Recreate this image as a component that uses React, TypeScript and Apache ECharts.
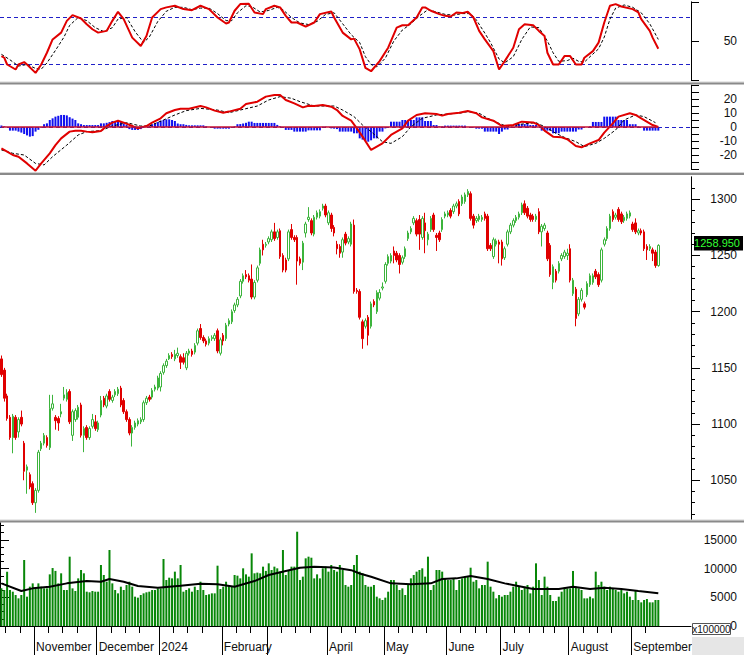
import React, { useEffect, useRef } from "react";
import * as echarts from "echarts";

// [open, close, low, high]
const candles: number[][] = [
  [1158,1144,1142,1161],[1148,1123,1120,1150],[1125,1105,1103,1127],[1106,1088,1086,1108],[1088,1107,1074,1109],
  [1106,1088,1086,1108],[1093,1104,1088,1106],[1106,1100,1098,1112],[1083,1058,1050,1085],[1059,1062,1038,1064],
  [1055,1044,1042,1057],[1047,1030,1028,1049],[1030,1041,1021,1043],[1041,1075,1039,1077],[1078,1083,1076,1085],
  [1083,1090,1081,1092],[1088,1081,1079,1090],[1079,1114,1077,1126],[1114,1118,1112,1126],[1106,1103,1095,1108],
  [1105,1101,1094,1107],[1109,1111,1106,1118],[1123,1126,1121,1133],[1122,1128,1120,1131],[1129,1102,1100,1131],
  [1090,1111,1085,1113],[1104,1112,1102,1114],[1106,1115,1104,1117],[1117,1090,1088,1119],[1090,1096,1075,1098],
  [1097,1088,1086,1099],[1088,1096,1086,1098],[1098,1104,1096,1109],[1102,1096,1094,1108],[1095,1101,1093,1103],
  [1108,1121,1106,1125],[1123,1117,1115,1125],[1116,1125,1114,1127],[1129,1122,1120,1131],[1121,1124,1119,1126],
  [1126,1129,1124,1131],[1127,1131,1125,1133],[1132,1117,1115,1134],[1121,1111,1109,1123],[1111,1104,1102,1113],
  [1104,1092,1090,1106],[1092,1097,1080,1099],[1097,1101,1095,1103],[1100,1103,1098,1105],[1102,1104,1100,1106],
  [1104,1119,1102,1121],[1119,1123,1117,1125],[1124,1122,1120,1126],[1124,1130,1122,1132],[1131,1133,1129,1135],
  [1132,1141,1130,1143],[1133,1145,1129,1147],[1146,1152,1144,1154],[1152,1156,1150,1158],[1158,1161,1157,1163],
  [1162,1160,1158,1164],[1158,1162,1156,1166],[1161,1163,1159,1168],[1160,1155,1149,1162],[1159,1155,1153,1163],
  [1150,1163,1148,1165],[1163,1165,1161,1167],[1165,1162,1160,1167],[1164,1170,1162,1172],[1172,1183,1170,1185],
  [1185,1177,1175,1189],[1177,1174,1172,1179],[1174,1171,1169,1176],[1172,1176,1170,1178],[1176,1177,1174,1179],
  [1176,1179,1174,1181],[1183,1165,1163,1185],[1163,1175,1161,1177],[1179,1174,1170,1181],[1176,1188,1174,1190],
  [1189,1192,1187,1194],[1191,1200,1189,1202],[1201,1206,1199,1208],[1206,1211,1204,1213],[1214,1227,1212,1229],
  [1227,1232,1225,1234],[1233,1231,1229,1237],[1232,1228,1226,1234],[1229,1213,1211,1242],[1213,1226,1211,1228],
  [1228,1239,1226,1241],[1243,1255,1241,1257],[1260,1255,1250,1264],[1259,1260,1257,1262],[1262,1265,1260,1267],
  [1264,1271,1262,1273],[1271,1265,1263,1279],[1266,1271,1264,1273],[1272,1249,1247,1274],[1250,1237,1235,1252],
  [1246,1237,1235,1248],[1247,1271,1245,1273],[1273,1266,1264,1278],[1266,1264,1262,1268],[1266,1245,1224,1268],
  [1247,1243,1241,1249],[1244,1261,1237,1263],[1270,1278,1266,1280],[1282,1284,1280,1293],[1281,1270,1268,1283],
  [1269,1284,1267,1286],[1284,1288,1282,1290],[1285,1289,1283,1291],[1292,1294,1290,1296],[1294,1286,1284,1296],
  [1279,1288,1277,1290],[1286,1274,1271,1288],[1275,1270,1267,1277],[1260,1256,1251,1263],[1258,1252,1248,1260],
  [1253,1264,1248,1266],[1269,1261,1259,1271],[1262,1265,1260,1267],[1260,1278,1258,1280],[1277,1218,1216,1282],
  [1219,1218,1216,1221],[1218,1195,1193,1220],[1191,1176,1167,1193],[1187,1192,1185,1194],[1195,1179,1170,1197],
  [1187,1207,1185,1209],[1209,1206,1204,1211],[1200,1217,1198,1219],[1212,1217,1210,1220],[1221,1222,1219,1226],
  [1227,1242,1225,1244],[1243,1249,1241,1251],[1245,1250,1243,1252],[1254,1250,1243,1258],[1252,1246,1244,1254],
  [1250,1242,1234,1252],[1244,1248,1242,1250],[1249,1256,1247,1258],[1265,1270,1263,1272],[1271,1274,1269,1276],
  [1279,1283,1277,1285],[1281,1269,1267,1283],[1282,1269,1255,1286],[1266,1283,1264,1285],[1279,1272,1252,1288],
  [1264,1269,1259,1271],[1273,1283,1271,1285],[1286,1273,1271,1288],[1268,1266,1254,1270],[1270,1264,1262,1272],
  [1273,1282,1271,1284],[1285,1287,1283,1289],[1286,1288,1284,1290],[1290,1285,1283,1292],[1289,1294,1287,1296],
  [1294,1296,1292,1298],[1298,1287,1285,1300],[1296,1302,1294,1304],[1298,1304,1296,1306],[1304,1307,1302,1309],
  [1305,1283,1281,1307],[1285,1277,1274,1287],[1281,1283,1279,1285],[1282,1285,1280,1287],[1282,1284,1280,1286],
  [1287,1283,1281,1289],[1285,1256,1254,1287],[1259,1256,1254,1261],[1249,1264,1247,1266],[1260,1263,1258,1265],
  [1262,1260,1243,1264],[1262,1247,1241,1264],[1248,1256,1246,1258],[1260,1271,1258,1273],[1271,1277,1269,1279],
  [1277,1281,1275,1283],[1281,1284,1279,1286],[1284,1287,1282,1289],[1288,1295,1286,1297],[1296,1288,1286,1299],
  [1292,1285,1283,1294],[1286,1282,1280,1288],[1285,1282,1280,1287],[1282,1285,1280,1287],[1289,1271,1269,1292],
  [1271,1276,1258,1278],[1274,1277,1272,1279],[1270,1247,1245,1272],[1259,1233,1231,1261],[1226,1240,1220,1242],
  [1236,1228,1226,1238],[1236,1243,1234,1245],[1247,1250,1245,1252],[1249,1253,1247,1255],[1250,1252,1246,1256],
  [1256,1228,1226,1260],[1216,1228,1214,1230],[1220,1194,1187,1222],[1198,1211,1196,1213],[1211,1219,1209,1221],
  [1207,1204,1202,1209],[1215,1225,1213,1227],[1224,1232,1222,1234],[1226,1232,1224,1234],[1236,1231,1229,1238],
  [1233,1224,1222,1235],[1228,1255,1226,1257],[1260,1264,1258,1266],[1265,1274,1263,1276],[1274,1285,1272,1287],
  [1289,1282,1280,1291],[1284,1286,1282,1288],[1291,1282,1280,1293],[1287,1280,1278,1289],[1281,1284,1279,1286],
  [1283,1287,1281,1289],[1285,1288,1283,1290],[1278,1273,1271,1280],[1279,1271,1269,1283],[1270,1272,1268,1274],
  [1272,1270,1268,1274],[1271,1256,1254,1273],[1258,1255,1246,1260],[1256,1258,1254,1260],[1255,1252,1245,1257],
  [1253,1241,1239,1255],[1241,1258.95,1240,1260]
];

// volume in units of 100000
const volumes: number[] = [
  6560,6270,9470,6270,5980,5400,4820,5400,11500,5110,
  6850,7430,6560,7430,6850,6560,6560,9000,10100,9600,
  7430,9180,6270,6270,12080,6560,6100,8300,9760,9180,
  5980,5870,6100,5980,5980,10630,8890,7720,13240,7430,
  6270,5690,6850,6270,7140,7720,6850,5110,4940,5400,
  5690,5870,5980,6270,6270,6560,6560,11670,8010,8420,
  8300,9470,8300,10630,5980,6270,6560,5980,6850,6270,
  7720,6270,5400,5520,5690,5690,10510,6440,6850,7720,
  7140,6850,8890,8770,8300,10050,9000,8600,12660,9180,
  9300,9180,10340,9600,10920,9760,10340,10050,9470,13240,
  8890,9760,10340,10340,16430,8010,8600,11790,12080,11900,
  8300,9000,8300,10050,10340,9470,10630,9760,9470,10630,
  9760,7140,6850,7140,10630,12370,9470,9180,7140,6850,
  6850,7140,5110,4820,4530,4940,5980,8010,8010,7140,
  6270,6560,5400,7140,8300,8890,9470,9760,10050,8600,
  12080,6270,7140,9760,9760,9470,8300,8010,8010,8300,
  6270,8010,8300,8600,8600,10160,7720,8010,6560,7140,
  7140,11210,6850,5980,4820,5400,5110,5400,5400,5980,
  6850,7720,6850,6270,6850,7140,5690,6850,10920,8010,
  5400,8600,6850,5400,4360,4360,5110,5980,6680,6560,
  6560,9590,6850,6560,6270,4820,4820,5110,4820,9470,
  7140,7720,6850,6270,6850,6560,6270,5980,6270,5690,
  5980,5110,4530,6100,4530,4120,4530,4700,4120,4120,
  4530,4530
];

// [candle index, value] points
const volumeMA: number[][] = [
  [0,7430],[7,6100],[11,6560],[17,6850],[23,7430],[30,7830],[35,7720],[38,8180],[43,7720],[48,6960],
  [55,6680],[63,7020],[70,7370],[76,7260],[82,6850],[89,7830],[94,8880],[100,9570],[105,10150],[110,10320],
  [117,10200],[123,9730],[126,9150],[130,8570],[137,7430],[144,7260],[151,7430],[155,8180],[160,8300],
  [165,8700],[171,8180],[177,7430],[183,6850],[187,6440],[196,6440],[201,6850],[207,6440],[212,6670],
  [218,6440],[224,6090],[231,5690]
];

const stochK: number[][] = [
  [0,30.7],[1,28.6],[2,20],[5,13.6],[6,20],[8,23],[9,20],[12,9.3],[14,20],[16,35],[18,52],[21,60.7],
  [23,75.7],[25,83],[28,78.7],[30,71.4],[32,65],[34,60.7],[37,62.9],[39,75.7],[41,87.3],[43,77.9],
  [46,54.3],[49,43.6],[51,56.4],[53,80],[56,90.7],[58,92.9],[61,95],[64,90.7],[67,89.4],[70,95],
  [73,90.7],[76,80],[79,72.3],[80,73.6],[82,88.6],[84,97.1],[87,97.6],[89,86.4],[92,84.3],[93,90.7],
  [96,95],[98,92.9],[100,82.1],[102,73.6],[104,73.6],[107,68.4],[110,73.6],[112,84.3],[116,87.7],
  [117,80],[120,60.7],[123,52.1],[124,53],[126,39.3],[128,15.7],[130,11.4],[133,24.3],[136,41.4],
  [139,67.1],[141,70.1],[143,70.1],[146,80],[148,92.9],[149,92.9],[151,88.6],[154,84.3],[156,82.1],
  [158,81.3],[160,86.4],[162,85.6],[164,87.3],[166,80],[168,62.9],[170,52.1],[173,37.1],[175,13.6],
  [177,24.3],[180,41.4],[182,65],[184,71.4],[187,70.1],[189,62.9],[191,56.4],[192,35],[194,20],
  [196,20],[198,30.7],[200,30.7],[202,20],[204,20],[205,28.6],[208,37.1],[210,47.9],[212,73.6],
  [214,95],[216,97.1],[218,94.1],[222,90.7],[224,86.4],[225,77.9],[228,62.9],[229,54.3],[231,40.1]
];

const stochD: number[][] = [
  [0,33],[3,26],[6,18],[9,20],[12,15],[14,14],[16,22],[19,38],[22,55],[24,70],[27,80],[30,76],
  [33,67],[36,62],[39,67],[41,78],[44,80],[47,62],[50,48],[52,55],[55,75],[58,88],[61,93],[64,93],
  [67,90],[70,92],[73,92],[76,85],[79,76],[81,76],[83,86],[86,95],[88,94],[91,87],[94,89],[97,93],
  [99,90],[102,80],[105,73],[108,71],[111,75],[114,84],[117,86],[120,72],[123,58],[126,48],[128,30],
  [130,20],[132,17],[135,28],[138,50],[141,64],[144,72],[147,82],[150,90],[153,87],[156,84],[159,83],
  [162,85],[165,85],[167,77],[170,60],[172,48],[175,27],[177,22],[180,30],[183,52],[186,68],[189,67],
  [192,50],[194,35],[196,24],[199,25],[201,28],[203,24],[205,23],[207,30],[210,40],[212,55],[214,78],
  [216,92],[219,96],[222,93],[225,86],[228,72],[231,52]
];

const macdLine: number[][] = [
  [0,-15.2],[2,-17.6],[4,-20],[6,-21.2],[9,-26],[12,-31.2],[14,-26],[17,-18.8],[19,-12.9],[21,-8.1],
  [24,-3.3],[26,-2.6],[28,-2.6],[30,-3.3],[32,-3.8],[35,-2.9],[37,0.7],[39,3.1],[41,4.5],[43,3.1],
  [46,0.7],[48,-1],[51,0.7],[53,3.1],[56,6.2],[58,9.8],[61,12.1],[63,13.1],[66,13.1],[70,15],[72,14],
  [75,11.7],[78,10.2],[80,11],[84,13.1],[86,16.4],[90,18.1],[93,21.7],[96,22.9],[98,22.9],[100,19.3],
  [103,16.9],[106,14],[108,15.2],[110,15],[113,15.7],[116,14.5],[118,12.1],[120,7.9],[123,4.5],
  [125,-1],[127,-6.9],[130,-16.4],[134,-11.7],[137,-5.7],[141,-1],[143,4.5],[146,8.6],[149,9.8],
  [153,9.3],[155,8.1],[157,9.3],[161,10.2],[164,11.4],[167,9.8],[169,6.9],[173,4.5],[176,0.7],
  [180,1.4],[183,3.8],[187,3.3],[189,1.4],[191,-2.6],[194,-6.9],[197,-7.4],[199,-8.8],[202,-13.6],
  [204,-14.5],[207,-11.7],[210,-9.3],[212,-4],[215,2.6],[217,7.4],[221,9.8],[223,8.6],[225,6.2],
  [229,1.4],[231,0]
];

const macdSignal: number[][] = [
  [0,-16.4],[4,-18.8],[8,-20],[12,-26],[15,-27.1],[18,-21.2],[23,-12.9],[27,-5.7],[30,-3.3],[35,-2.6],
  [39,0.7],[44,3.1],[49,0.7],[52,0.7],[57,5],[61,8.6],[65,11.7],[70,13.3],[76,12.1],[80,10.2],
  [85,12.6],[90,15],[94,19.3],[98,21.7],[102,20.5],[105,18.1],[110,15],[117,15],[120,12.1],[124,7.4],
  [127,1.4],[130,-3.3],[134,-10.5],[137,-11.7],[141,-6.9],[144,0.2],[148,6.2],[153,8.6],[157,9.3],
  [161,9.8],[164,11],[168,9.8],[171,6.2],[175,2.6],[178,0.2],[183,2.1],[188,3.1],[191,0.2],[195,-4.5],
  [198,-7.4],[202,-10.5],[205,-14],[209,-11.7],[212,-8.1],[216,-2.1],[219,5],[223,8.6],[226,7.4],[230,3.1]
];

const macdHist: number[] = [
  1,0.5,0,-2.6,-2.6,-2.6,-3.3,-4,-5,-6,
  -6.9,-6.5,-3.3,-2,-0.5,2,2.6,5,6.2,7.4,
  8,8.6,8.6,8.3,7,6,5,2.6,2,1.4,
  1.4,1.4,1.4,1.4,1.4,2.6,2.6,3,3.5,4.3,
  4.3,4.3,4.3,2.6,1.5,-1.5,-2.1,-2.1,-2.1,-1.5,
  0,0.3,0.5,2,2.6,3.5,4.5,5,5.5,5.5,
  5,4.3,2.5,2,2,1.5,1.2,1.2,1.2,1.2,
  1.2,1.2,0.5,0,-0.5,-1.2,-1.2,-1.2,-1.2,-1.2,
  -1.2,-0.5,0.5,2,2.1,2.5,3,3.8,3.8,2.9,
  2.9,2.9,2.9,2.9,2.9,2.9,2.9,1.5,0.5,-0.5,
  -2.1,-2.1,-2.1,-3.3,-3.3,-3.3,-3.3,-3.3,-2.4,-2.4,
  -2.4,-2.4,-2.4,0.2,0.3,0.1,-1,-1.2,-1.5,-3.3,
  -3.3,-3.3,-3.3,-3.3,-4.5,-4.5,-8.1,-9,-10,-10.5,
  -9.5,-8.1,-8.1,-3.3,-3.3,-1,0,3.8,3.8,3.8,
  3.8,5,5,5,5,5,6.9,6.9,6.9,4.3,
  4.3,4.3,1.4,1.4,0.5,0.5,1,1,1,1,
  1,1,1,1,0,0,-0.5,-1.2,-1.2,-1.2,
  -3.3,-3.3,-3.3,-3.3,-3.3,-5,-3.3,-1.8,-1.8,-0.5,
  0,2.1,2.1,2.1,2.1,2.1,1.4,1.4,1.4,0,
  -2.6,-2.6,-2.6,-2.6,-4.5,-4.5,-4.5,-3.3,-3.3,-3.3,
  -3.3,-3.3,-3.3,-1.8,-1.8,0,0,0.5,3.6,3.6,
  3.6,3.6,7.4,7.4,7.4,7.4,7.4,5,5,5,
  5,2,2,2,0.5,0,-2.6,-2.6,-2.6,-2.6,
  -2.6,-2.6
];

// month boundaries (candle index) and their labels
const monthTicks: number[] = [12, 34, 56, 78, 94, 115, 135, 157, 176, 200, 222];
const monthLabels: string[] = ["November", "December", "2024", "February", "", "April", "May", "June", "July", "August", "September"];
const weekTicks: number[] = [2, 7, 17, 22, 27, 39, 44, 49, 61, 66, 71, 83, 88, 99, 104, 109, 120, 125, 130, 140, 145, 150, 162, 167, 171, 181, 186, 191, 195, 205, 210, 215, 227];

const stochLevels = [80, 20];
const stochLabels = [50];
const stochTicks = [0, 50, 100];
const macdLabels = [-20, -10, 0, 10, 20];
const macdTicks = [-30, -25, -20, -15, -10, -5, 0, 5, 10, 15, 20, 25, 30];
const priceLabels = [1050, 1100, 1150, 1200, 1250, 1300];
const priceMinor = [1020,1030,1040,1060,1070,1080,1090,1110,1120,1130,1140,1160,1170,1180,1190,1210,1220,1230,1240,1260,1270,1280,1290,1310];
const volLabels = [0, 5000, 10000, 15000];
const volMinor = [1250, 2500, 3750, 6250, 7500, 8750, 11250, 12500, 13750, 16250, 17500];

const SLOTS = 243;
const W = 744;
const H = 655;
const AXIS_X = 691;
const FONT = "'Liberation Sans', Arial, sans-serif";

export default function App() {
  const ref = useRef<HTMLDivElement>(null);
  useEffect(() => {
    const chart = echarts.init(ref.current!, null, { renderer: "svg" });
    const cats = Array.from({ length: SLOTS }, (_, i) => String(i));
    const right = W - AXIS_X;
    const grids = [
      { left: 0, right, top: 1.83, height: 78.33 },
      { left: 0, right, top: 85, height: 84 },
      { left: 0, right, top: 176.8, height: 342.8 },
      { left: 0, right, top: 522.7, height: 103.3 },
    ];
    const catAxis = (gi: number) => ({
      type: "category", gridIndex: gi, data: cats, boundaryGap: true, show: false,
    });
    const lbl = (vals: number[]) => ({
      show: true, customValues: vals, color: "#111", fontFamily: FONT, fontSize: 12,
      align: "right", margin: 46, formatter: (v: number) => String(Math.round(v)),
    });
    const yAxisBase = (gi: number, min: number, max: number) => ({
      type: "value", gridIndex: gi, min, max, position: "right", splitLine: { show: false },
      axisLine: { show: true, lineStyle: { color: "#000", width: 1 } },
    });
    const yAxes: any[] = [
      { ...yAxisBase(0, 0, 100), axisLabel: lbl(stochLabels), axisTick: { show: true, customValues: stochTicks, length: 8, lineStyle: { color: "#000" } } },
      { ...yAxisBase(1, -30, 30), axisLabel: lbl(macdLabels), axisTick: { show: true, customValues: macdTicks, length: 8, lineStyle: { color: "#000" } } },
      { ...yAxisBase(2, 1015, 1320), axisLabel: lbl(priceLabels), axisTick: { show: true, customValues: priceLabels, length: 9, lineStyle: { color: "#000" } } },
      { ...yAxisBase(3, 0, 18000), axisLabel: lbl(volLabels), axisTick: { show: true, customValues: volLabels, length: 9, lineStyle: { color: "#000" } } },
      { ...yAxisBase(2, 1015, 1320), axisLine: { show: false }, axisLabel: { show: false }, axisTick: { show: true, customValues: priceMinor, length: 4, lineStyle: { color: "#000" } } },
      { ...yAxisBase(3, 0, 18000), axisLine: { show: false }, axisLabel: { show: false }, axisTick: { show: true, customValues: volMinor, length: 4, lineStyle: { color: "#000" } } },
    ];
    const xAxes: any[] = [
      catAxis(0), catAxis(1), catAxis(2), catAxis(3),
      {
        type: "value", gridIndex: 3, min: 0, max: SLOTS, position: "bottom", splitLine: { show: false },
        axisLine: { show: true, lineStyle: { color: "#000" } },
        axisTick: { show: true, customValues: monthTicks, length: 29, lineStyle: { color: "#000" } },
        axisLabel: {
          show: true, customValues: monthTicks, align: "left", margin: 15, padding: [0, 0, 0, 2],
          color: "#111", fontFamily: FONT, fontSize: 12,
          formatter: (v: number) => monthLabels[monthTicks.indexOf(Math.round(v))] || "",
        },
      },
      {
        type: "value", gridIndex: 3, min: 0, max: SLOTS, position: "bottom", splitLine: { show: false },
        axisLine: { show: false }, axisLabel: { show: false },
        axisTick: { show: true, customValues: weekTicks, length: 7, lineStyle: { color: "#000" } },
      },
    ];
    const red = "#e00000";
    const navy = "#2020c8";
    const option: any = {
      animation: false,
      backgroundColor: "#fff",
      grid: grids,
      xAxis: xAxes,
      yAxis: yAxes,
      series: [
        {
          type: "line", name: "Levels", xAxisIndex: 0, yAxisIndex: 0, data: [], showSymbol: false,
          markLine: {
            silent: true, symbol: "none", label: { show: false }, z: 1,
            lineStyle: { color: navy, type: [4, 3], width: 1 },
            data: stochLevels.map((v) => ({ yAxis: v })),
          },
        },
        {
          type: "line", name: "%D", xAxisIndex: 0, yAxisIndex: 0, data: stochD, showSymbol: false,
          lineStyle: { color: "#000", width: 1, type: [3, 2] },
        },
        {
          type: "line", name: "%K", xAxisIndex: 0, yAxisIndex: 0, data: stochK, showSymbol: false,
          lineStyle: { color: red, width: 2 },
        },
        {
          type: "bar", name: "Hist", xAxisIndex: 1, yAxisIndex: 1, data: macdHist, barWidth: 2,
          itemStyle: { color: "#1010f0" },
          markLine: {
            silent: true, symbol: "none", label: { show: false },
            data: [
              { yAxis: 0, lineStyle: { color: navy, type: [4, 3], width: 1 } },
              [{ coord: [0, 0], lineStyle: { color: "#c8102e", type: "solid", width: 1.5 } }, { coord: [candles.length - 1, 0] }],
            ],
          },
        },
        {
          type: "line", name: "Signal", xAxisIndex: 1, yAxisIndex: 1, data: macdSignal, showSymbol: false, clip: false,
          lineStyle: { color: "#000", width: 1, type: [3, 2] },
        },
        {
          type: "line", name: "MACD", xAxisIndex: 1, yAxisIndex: 1, data: macdLine, showSymbol: false, clip: false,
          lineStyle: { color: red, width: 2 },
        },
        {
          type: "candlestick", name: "Price", xAxisIndex: 2, yAxisIndex: 2, data: candles, barWidth: 2,
          itemStyle: {
            color: "#ffffff", color0: red, borderColor: "#3cb43c", borderColor0: red, borderWidth: 1,
          },
        },
        {
          type: "bar", name: "Volume", xAxisIndex: 3, yAxisIndex: 3, data: volumes, barWidth: 2,
          itemStyle: { color: "#088708" },
        },
        {
          type: "line", name: "VolMA", xAxisIndex: 3, yAxisIndex: 3, data: volumeMA, showSymbol: false,
          lineStyle: { color: "#000", width: 2 },
        },
      ],
    };
    chart.setOption(option);
    const lastClose = candles[candles.length - 1][1];
    const yLast = chart.convertToPixel({ yAxisIndex: 2 }, lastClose) as number;
    const sep = (y: number) => [
      { type: "rect", shape: { x: 0, y, width: W, height: 1 }, style: { fill: "#d4d4d4" }, z: 100 },
      { type: "rect", shape: { x: 0, y: y + 1, width: W, height: 2 }, style: { fill: "#8a8a8a" }, z: 100 },
    ];
    chart.setOption({
      graphic: [
        ...sep(81.5), ...sep(172), ...sep(519.5),
        { type: "rect", shape: { x: AXIS_X + 1, y: 637, width: W - AXIS_X, height: H - 637 }, style: { fill: "#e6e6e6" }, z: 100 },
        { type: "rect", shape: { x: 692.5, y: 623.5, width: 38, height: 11 }, style: { fill: "#fff", stroke: "#555", lineWidth: 1 }, z: 101 },
        { type: "text", x: 711.5, y: 629.5, style: { text: "x100000", fill: "#111", font: "10px " + FONT, align: "center", verticalAlign: "middle" }, z: 102 },
        { type: "rect", shape: { x: AXIS_X + 3, y: yLast - 9.5, width: W - AXIS_X - 4, height: 14.5 }, style: { fill: "#000" }, z: 101 },
        { type: "text", x: 740, y: yLast - 2.2, style: { text: lastClose.toFixed(3), fill: "#33ff33", font: "11px " + FONT, align: "right", verticalAlign: "middle" }, z: 102 },
      ],
    });
    return () => chart.dispose();
  }, []);
  return <div ref={ref} style={{ position: "fixed", left: 0, top: 0, width: W, height: H, background: "#fff" }} />;
}
